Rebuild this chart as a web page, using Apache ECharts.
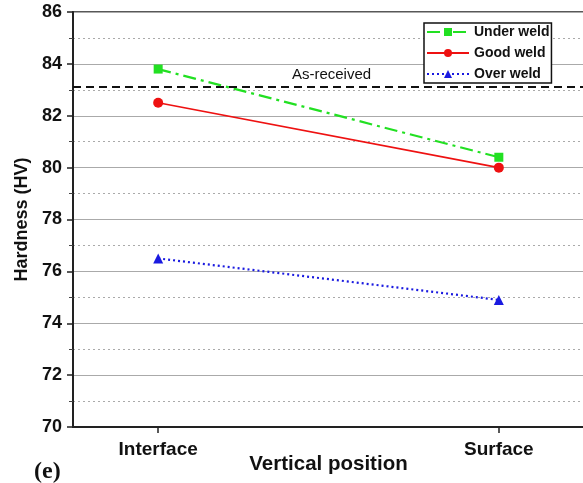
<!DOCTYPE html>
<html>
<head>
<meta charset="utf-8">
<script src="https://cdn.jsdelivr.net/npm/echarts@6/dist/echarts.min.js"></script>
<style>
  html, body { margin: 0; padding: 0; background: #fff; }
  #chart { width: 583px; height: 483px; }
</style>
</head>
<body>
<div id="chart"></div>
<script>
// Hardness measured at two vertical positions for three welding conditions
const positions = ['Interface', 'Surface'];
const underWeld = [83.8, 80.4];
const goodWeld = [82.5, 80.0];
const overWeld = [76.5, 74.9];
const asReceived = 83.1;
const yTicks = [70, 72, 74, 76, 78, 80, 82, 84, 86];

const FONT = "'Liberation Sans', Arial, sans-serif";

function pairs(values) {
  return values.map((v, i) => [i, v]);
}

const chart = echarts.init(document.getElementById('chart'), null, { renderer: 'canvas' });

chart.setOption({
  backgroundColor: '#fff',
  animation: false,
  grid: {
    left: 73, right: -1, top: 12, bottom: 56,
    outerBoundsMode: 'none',
    containLabel: false,
    show: true, borderColor: '#222', borderWidth: 1.5, backgroundColor: 'transparent'
  },
  legend: {
    orient: 'vertical',
    left: 424, top: 23,
    z: 20,
    itemWidth: 42, itemHeight: 10, itemGap: 7,
    padding: [2, 2, 2, 2],
    borderColor: '#111', borderWidth: 1.5,
    backgroundColor: '#fff',
    textStyle: { fontFamily: FONT, fontWeight: 'bold', fontSize: 14, color: '#111' },
    data: ['Under weld', 'Good weld', 'Over weld']
  },
  xAxis: {
    type: 'value',
    min: -0.25, max: 1.25, interval: 0.25,
    name: 'Vertical position',
    nameLocation: 'middle', nameGap: 27, nameMoveOverlap: false,
    nameTextStyle: { fontFamily: FONT, fontWeight: 'bold', fontSize: 20.5, color: '#111' },
    axisLine: { show: true, onZero: false, lineStyle: { color: '#222', width: 2 } },
    axisTick: { show: true, customValues: [0, 1], length: 6, lineStyle: { color: '#222', width: 1.5 } },
    axisLabel: {
      customValues: [0, 1],
      formatter: v => positions[Math.round(v)] || '',
      margin: 13,
      fontFamily: FONT, fontWeight: 'bold', fontSize: 19, color: '#111'
    },
    splitLine: { show: false }
  },
  yAxis: {
    type: 'value',
    min: yTicks[0], max: yTicks[yTicks.length - 1], interval: 2,
    name: 'Hardness (HV)',
    nameLocation: 'middle', nameGap: 40,
    nameTextStyle: { fontFamily: FONT, fontWeight: 'bold', fontSize: 18, color: '#111' },
    axisLine: { show: true, onZero: false, lineStyle: { color: '#222', width: 2 } },
    axisTick: { show: true, length: 6, lineStyle: { color: '#222', width: 1.5 } },
    minorTick: { show: true, splitNumber: 2, length: 4, lineStyle: { color: '#444', width: 1 } },
    axisLabel: { margin: 11, fontFamily: FONT, fontWeight: 'bold', fontSize: 18, color: '#111' },
    splitLine: { show: true, lineStyle: { color: '#aaa', width: 1.2 } },
    minorSplitLine: { show: true, lineStyle: { color: '#aaa', width: 1.2, type: [2, 3] } }
  },
  series: [
    {
      name: 'Under weld', type: 'line',
      data: pairs(underWeld),
      symbol: 'rect', symbolSize: 9,
      itemStyle: { color: '#22e022' },
      lineStyle: { color: '#22e022', width: 2.2, type: [13, 5, 3, 5] },
      z: 3
    },
    {
      name: 'Good weld', type: 'line',
      data: pairs(goodWeld),
      symbol: 'circle', symbolSize: 10,
      itemStyle: { color: '#ee1111' },
      lineStyle: { color: '#ee1111', width: 1.6 },
      z: 3,
      markLine: {
        silent: true, symbol: 'none',
        lineStyle: { color: '#111', width: 2, type: [8, 5] },
        label: {
          show: true, position: 'middle', formatter: 'As-received', distance: 5,
          offset: [3, 0],
          fontFamily: FONT, fontSize: 15, color: '#111'
        },
        data: [{ yAxis: asReceived }]
      }
    },
    {
      name: 'Over weld', type: 'line',
      data: pairs(overWeld),
      symbol: 'triangle', symbolSize: 10,
      itemStyle: { color: '#1a1ae0' },
      lineStyle: { color: '#1a1ae0', width: 2.2, type: [2, 3] },
      z: 3
    }
  ],
  graphic: [
    {
      type: 'text', left: 34, top: 460,
      style: { text: '(e)', fontFamily: "'Liberation Serif', 'Times New Roman', serif", fontWeight: 'bold', fontSize: 24, fill: '#111' }
    }
  ]
});
</script>
</body>
</html>
